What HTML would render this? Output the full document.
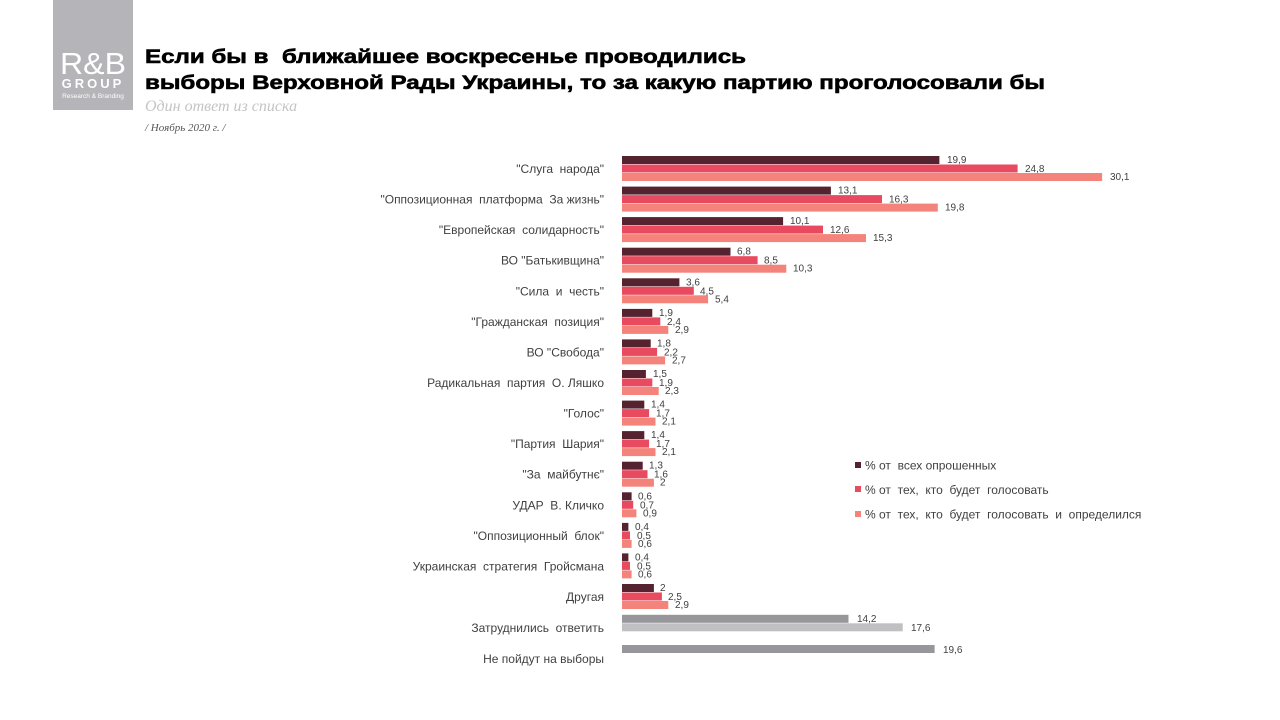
<!DOCTYPE html>
<html><head><meta charset="utf-8"><style>
body{margin:0;background:#fff;width:1280px;height:720px;overflow:hidden}
svg{display:block;font-family:"Liberation Sans",sans-serif}
text{white-space:pre}
.c{font-size:12px;fill:#404040;text-anchor:end}
.v{font-size:10px;fill:#404040}
.a{fill:#55222f}.b{fill:#e84a5f}.p{fill:#f4837b}
</style></head><body>
<svg width="1280" height="720" viewBox="0 0 1280 720" xml:space="preserve">
<rect x="53" y="0" width="80" height="110" fill="#b4b4b9"/>
<text x="93" y="74" font-size="31" fill="#fff" text-anchor="middle" textLength="66" lengthAdjust="spacingAndGlyphs">R&amp;B</text>
<text x="93" y="88" font-size="13" fill="#fff" text-anchor="middle" letter-spacing="3" font-weight="bold">GROUP</text>
<text x="93" y="98" font-size="6.5" fill="#fff" text-anchor="middle">Research &amp; Branding</text>
<text x="145" y="63" font-size="19.5" font-weight="bold" fill="#000" stroke="#000" stroke-width="0.6" textLength="601" lengthAdjust="spacingAndGlyphs">Если бы в  ближайшее воскресенье проводились</text>
<text x="145" y="89" font-size="19.5" font-weight="bold" fill="#000" stroke="#000" stroke-width="0.6" textLength="900" lengthAdjust="spacingAndGlyphs">выборы Верховной Рады Украины, то за какую партию проголосовали бы</text>
<text x="145" y="111" font-size="16" font-style="italic" fill="#c4c4c4" font-family="Liberation Serif,serif">Один ответ из списка</text>
<text x="145" y="131" font-size="11" font-style="italic" fill="#555" font-family="Liberation Serif,serif">/ Ноябрь 2020 г. /</text>

<g transform="translate(0,156)"><text class="c" x="604" y="17">"Слуга  народа"</text>
<rect class="a" x="622" y="0" width="317.4" height="8"/><rect class="b" x="622" y="8.5" width="395.6" height="8"/><rect class="p" x="622" y="17" width="480.1" height="8"/>
<text class="v" x="947" y="7">19,9</text><text class="v" x="1025" y="16">24,8</text><text class="v" x="1110" y="24">30,1</text></g>

<g transform="translate(0,186.6)"><text class="c" x="604" y="17">"Оппозиционная  платформа  За жизнь"</text>
<rect class="a" x="622" y="0" width="208.9" height="8"/><rect class="b" x="622" y="8.5" width="260" height="8"/><rect class="p" x="622" y="17" width="315.8" height="8"/>
<text class="v" x="838" y="7">13,1</text><text class="v" x="889" y="16">16,3</text><text class="v" x="945" y="24">19,8</text></g>

<g transform="translate(0,217.1)"><text class="c" x="604" y="17">"Европейская  солидарность"</text>
<rect class="a" x="622" y="0" width="161.1" height="8"/><rect class="b" x="622" y="8.5" width="201" height="8"/><rect class="p" x="622" y="17" width="244" height="8"/>
<text class="v" x="790" y="7">10,1</text><text class="v" x="830" y="16">12,6</text><text class="v" x="873" y="24">15,3</text></g>

<g transform="translate(0,247.7)"><text class="c" x="604" y="17">ВО "Батькивщина"</text>
<rect class="a" x="622" y="0" width="108.5" height="8"/><rect class="b" x="622" y="8.5" width="135.6" height="8"/><rect class="p" x="622" y="17" width="164.3" height="8"/>
<text class="v" x="737" y="7">6,8</text><text class="v" x="764" y="16">8,5</text><text class="v" x="793" y="24">10,3</text></g>

<g transform="translate(0,278.3)"><text class="c" x="604" y="17">"Сила  и  честь"</text>
<rect class="a" x="622" y="0" width="57.4" height="8"/><rect class="b" x="622" y="8.5" width="71.8" height="8"/><rect class="p" x="622" y="17" width="86.1" height="8"/>
<text class="v" x="686" y="7">3,6</text><text class="v" x="700" y="16">4,5</text><text class="v" x="715" y="24">5,4</text></g>

<g transform="translate(0,308.9)"><text class="c" x="604" y="17">"Гражданская  позиция"</text>
<rect class="a" x="622" y="0" width="30.3" height="8"/><rect class="b" x="622" y="8.5" width="38.3" height="8"/><rect class="p" x="622" y="17" width="46.3" height="8"/>
<text class="v" x="659" y="7">1,9</text><text class="v" x="667" y="16">2,4</text><text class="v" x="675" y="24">2,9</text></g>

<g transform="translate(0,339.4)"><text class="c" x="604" y="17">ВО "Свобода"</text>
<rect class="a" x="622" y="0" width="28.7" height="8"/><rect class="b" x="622" y="8.5" width="35.1" height="8"/><rect class="p" x="622" y="17" width="43.1" height="8"/>
<text class="v" x="657" y="7">1,8</text><text class="v" x="664" y="16">2,2</text><text class="v" x="672" y="24">2,7</text></g>

<g transform="translate(0,370)"><text class="c" x="604" y="17">Радикальная  партия  О. Ляшко</text>
<rect class="a" x="622" y="0" width="23.9" height="8"/><rect class="b" x="622" y="8.5" width="30.3" height="8"/><rect class="p" x="622" y="17" width="36.7" height="8"/>
<text class="v" x="653" y="7">1,5</text><text class="v" x="659" y="16">1,9</text><text class="v" x="665" y="24">2,3</text></g>

<g transform="translate(0,400.6)"><text class="c" x="604" y="17">"Голос"</text>
<rect class="a" x="622" y="0" width="22.3" height="8"/><rect class="b" x="622" y="8.5" width="27.1" height="8"/><rect class="p" x="622" y="17" width="33.5" height="8"/>
<text class="v" x="651" y="7">1,4</text><text class="v" x="656" y="16">1,7</text><text class="v" x="662" y="24">2,1</text></g>

<g transform="translate(0,431.1)"><text class="c" x="604" y="17">"Партия  Шария"</text>
<rect class="a" x="622" y="0" width="22.3" height="8"/><rect class="b" x="622" y="8.5" width="27.1" height="8"/><rect class="p" x="622" y="17" width="33.5" height="8"/>
<text class="v" x="651" y="7">1,4</text><text class="v" x="656" y="16">1,7</text><text class="v" x="662" y="24">2,1</text></g>

<g transform="translate(0,461.7)"><text class="c" x="604" y="17">"За  майбутнє"</text>
<rect class="a" x="622" y="0" width="20.7" height="8"/><rect class="b" x="622" y="8.5" width="25.5" height="8"/><rect class="p" x="622" y="17" width="31.9" height="8"/>
<text class="v" x="649" y="7">1,3</text><text class="v" x="654" y="16">1,6</text><text class="v" x="660" y="24">2</text></g>

<g transform="translate(0,492.3)"><text class="c" x="604" y="17">УДАР  В. Кличко</text>
<rect class="a" x="622" y="0" width="9.6" height="8"/><rect class="b" x="622" y="8.5" width="11.2" height="8"/><rect class="p" x="622" y="17" width="14.4" height="8"/>
<text class="v" x="638" y="7">0,6</text><text class="v" x="640" y="16">0,7</text><text class="v" x="643" y="24">0,9</text></g>

<g transform="translate(0,522.9)"><text class="c" x="604" y="17">"Оппозиционный  блок"</text>
<rect class="a" x="622" y="0" width="6.4" height="8"/><rect class="b" x="622" y="8.5" width="8" height="8"/><rect class="p" x="622" y="17" width="9.6" height="8"/>
<text class="v" x="635" y="7">0,4</text><text class="v" x="637" y="16">0,5</text><text class="v" x="638" y="24">0,6</text></g>

<g transform="translate(0,553.4)"><text class="c" x="604" y="17">Украинская  стратегия  Гройсмана</text>
<rect class="a" x="622" y="0" width="6.4" height="8"/><rect class="b" x="622" y="8.5" width="8" height="8"/><rect class="p" x="622" y="17" width="9.6" height="8"/>
<text class="v" x="635" y="7">0,4</text><text class="v" x="637" y="16">0,5</text><text class="v" x="638" y="24">0,6</text></g>

<g transform="translate(0,584)"><text class="c" x="604" y="17">Другая</text>
<rect class="a" x="622" y="0" width="31.9" height="8"/><rect class="b" x="622" y="8.5" width="39.9" height="8"/><rect class="p" x="622" y="17" width="46.3" height="8"/>
<text class="v" x="660" y="7">2</text><text class="v" x="668" y="16">2,5</text><text class="v" x="675" y="24">2,9</text></g>

<g transform="translate(0,614.8)"><text class="c" x="604" y="17">Затруднились  ответить</text>
<rect fill="#97979b" x="622" y="0" width="226.5" height="8"/><rect fill="#c0c0c2" x="622" y="8.5" width="280.7" height="8"/>
<text class="v" x="857" y="7">14,2</text><text class="v" x="911" y="16">17,6</text></g>

<g transform="translate(0,645)"><text class="c" x="604" y="18">Не пойдут на выборы</text>
<rect fill="#97979b" x="622" y="0" width="312.6" height="8"/>
<text class="v" x="943" y="8">19,6</text></g>

<rect class="a" x="855" y="462" width="6" height="6"/><text x="865" y="469.5" font-size="12" fill="#404040">% от  всех опрошенных</text>
<rect class="b" x="855" y="486" width="6" height="6"/><text x="865" y="494" font-size="12" fill="#404040">% от  тех,  кто  будет  голосовать</text>
<rect class="p" x="855" y="511" width="6" height="6"/><text x="865" y="518.5" font-size="12" fill="#404040">% от  тех,  кто  будет  голосовать  и  определился</text>
</svg>
</body></html>
